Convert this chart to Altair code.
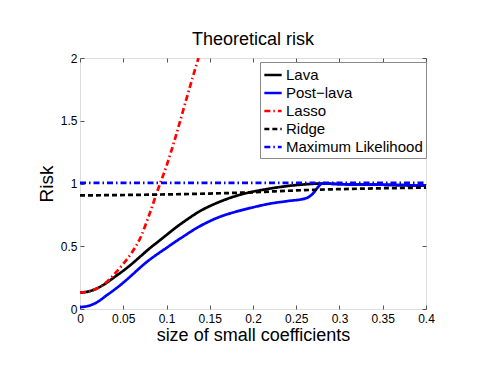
import altair as alt
import pandas as pd

FONT = "Liberation Sans"

series_names = ["Lava", "Post\u2212lava", "Lasso", "Ridge", "Maximum Likelihood"]
series_colors = ["#000000", "#0000ff", "#ff0000", "#000000", "#0000ff"]
series_dash = [[1, 0], [1, 0], [6, 3, 1.5, 3], [5, 3], [6, 3, 1.5, 3]]

lava_x = [0, 0.01, 0.02, 0.03, 0.04, 0.05, 0.06, 0.07, 0.08, 0.09, 0.10, 0.11, 0.12,
          0.14, 0.16, 0.18, 0.20, 0.22, 0.24, 0.26, 0.28, 0.30, 0.35, 0.40]
lava_y = [0.13, 0.14, 0.165, 0.205, 0.255, 0.305, 0.36, 0.42, 0.48, 0.535, 0.59, 0.645, 0.695,
          0.785, 0.85, 0.90, 0.935, 0.96, 0.98, 0.993, 1.0, 0.995, 0.99, 0.982]

post_x = [0, 0.01, 0.02, 0.03, 0.04, 0.05, 0.06, 0.07, 0.08, 0.09, 0.10, 0.11, 0.12, 0.13,
          0.14, 0.15, 0.16, 0.18, 0.20, 0.22, 0.24, 0.26, 0.265, 0.27, 0.275, 0.28, 0.30,
          0.35, 0.40]
post_y = [0.015, 0.025, 0.055, 0.105, 0.155, 0.21, 0.27, 0.333, 0.39, 0.44, 0.487, 0.535,
          0.58, 0.625, 0.665, 0.70, 0.73, 0.775, 0.81, 0.84, 0.86, 0.88, 0.895, 0.925, 0.97,
          1.0, 0.995, 0.99, 0.982]

lasso_x = [0, 0.01, 0.02, 0.03, 0.04, 0.05, 0.06, 0.07, 0.08, 0.09, 0.10, 0.11, 0.12,
           0.13, 0.137]
lasso_y = [0.13, 0.14, 0.165, 0.21, 0.28, 0.36, 0.45, 0.57, 0.75, 0.95, 1.14, 1.36, 1.6,
           1.84, 2.0]

ridge_x = [0, 0.10, 0.15, 0.20, 0.25, 0.30, 0.35, 0.40]
ridge_y = [0.905, 0.913, 0.92, 0.93, 0.945, 0.955, 0.962, 0.967]

ml_x = [0, 0.40]
ml_y = [1.005, 1.005]

x_ticks = [0, 0.05, 0.1, 0.15, 0.2, 0.25, 0.3, 0.35, 0.4]
y_ticks = [0, 0.5, 1, 1.5, 2]

rows = []
for name, xs, ys in zip(series_names,
                        [lava_x, post_x, lasso_x, ridge_x, ml_x],
                        [lava_y, post_y, lasso_y, ridge_y, ml_y]):
    for xv, yv in zip(xs, ys):
        rows.append({"series": name, "x": xv, "risk": yv})
df = pd.DataFrame(rows)

xscale = alt.Scale(domain=[0, 0.4], nice=False, zero=False)
yscale = alt.Scale(domain=[0, 2], nice=False, zero=False)

common_axis = dict(grid=False, domain=False, tickSize=4, offset=-4, tickColor="#555",
                   labelFont=FONT, labelFontSize=12, labelColor="#000",
                   titleFont=FONT, titleColor="#000", titleFontWeight="normal")

lines = alt.Chart(df).mark_line(strokeWidth=2.7, clip=True, interpolate="monotone").encode(
    x=alt.X("x:Q", scale=xscale,
            axis=alt.Axis(values=x_ticks, format="~g", title="size of small coefficients",
                          titleFontSize=18, labelPadding=4, titlePadding=2,
                          labelFlush=False, **common_axis)),
    y=alt.Y("risk:Q", scale=yscale,
            axis=alt.Axis(values=y_ticks, format="~g", title="Risk", titleFontSize=19,
                          labelPadding=3, titlePadding=4, labelFlush=False,
                          **common_axis)),
    color=alt.Color("series:N", scale=alt.Scale(domain=series_names, range=series_colors),
                    legend=alt.Legend(orient="none", legendX=180, legendY=4, title=None,
                                      symbolType="stroke", symbolSize=300,
                                      symbolStrokeWidth=2.5, labelFont=FONT,
                                      labelFontSize=15, labelColor="#000", padding=3,
                                      strokeColor="#888", fillColor="white", rowPadding=0,
                                      labelOffset=3, labelLimit=300)),
    strokeDash=alt.StrokeDash("series:N",
                              scale=alt.Scale(domain=series_names, range=series_dash),
                              legend=alt.Legend(orient="none", legendX=180, legendY=4,
                                                title=None)),
    detail="series:N",
)

frame = alt.Chart(df).mark_line(opacity=0).encode(
    x=alt.X("x:Q", scale=xscale,
            axis=alt.Axis(orient="top", values=x_ticks, labels=False, title=None,
                          grid=False, domain=False, tickSize=4, offset=-4,
                          tickColor="#555")),
    y=alt.Y("risk:Q", scale=yscale,
            axis=alt.Axis(orient="right", values=y_ticks, labels=False, title=None,
                          grid=False, domain=False, tickSize=4, offset=-4,
                          tickColor="#555")),
    detail="series:N",
)

chart = alt.layer(lines, frame).resolve_axis(x="independent", y="independent").properties(
    width=346, height=251,
    title=alt.TitleParams("Theoretical risk", font=FONT, fontSize=18, fontWeight="normal",
                          color="#000", anchor="middle", offset=3),
    autosize=alt.AutoSizeParams(type="none"),
    padding={"left": 72, "top": 50, "right": 50, "bottom": 60},
).configure_view(stroke="#555", strokeWidth=1).configure(background="white")

chart.save("out.html", embed_options={"renderer": "svg", "actions": False})
